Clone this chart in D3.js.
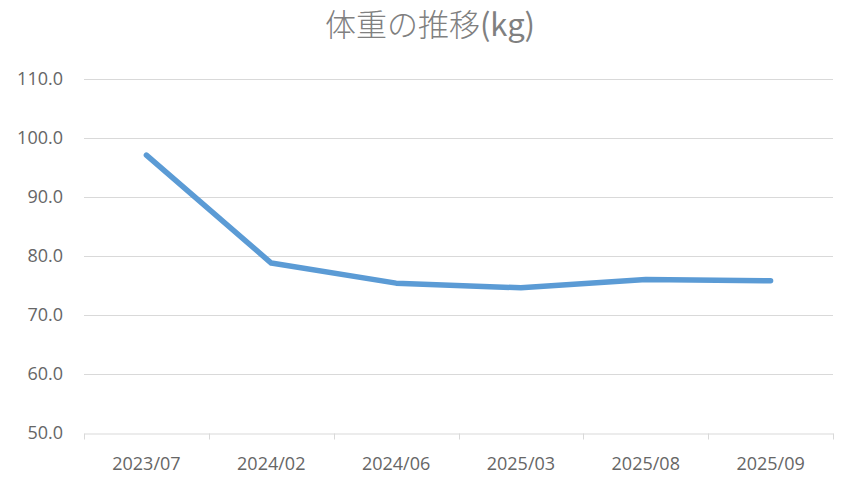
<!DOCTYPE html>
<html>
<head>
<meta charset="utf-8">
<script src="https://cdn.jsdelivr.net/npm/d3@7"></script>
<style>
  body { margin: 0; background: #fff; }
</style>
</head>
<body>
<svg id="chart" width="859" height="488"></svg>
<script>
// chart data
const months = ["2023/07", "2024/02", "2024/06", "2025/03", "2025/08", "2025/09"];
const weights = [97.1, 78.8, 75.4, 74.6, 76.0, 75.8];
const yTicks = [50, 60, 70, 80, 90, 100, 110];

let svg = d3.select("#chart");
let width = parseInt(svg.attr("width"));
let height = parseInt(svg.attr("height"));

let margin = {top: 79, right: 26, bottom: 55, left: 84};

let x = d3.scaleBand()
    .domain(months)
    .range([margin.left, width - margin.right]);

let y = d3.scaleLinear()
    .domain([50, 110])
    .range([height - margin.bottom, margin.top]);

// title
let title = svg.append("text")
    .attr("x", 430)
    .attr("y", 36)
    .attr("text-anchor", "middle")
    .style("font-family", "'Noto Sans CJK JP', sans-serif")
    .style("font-size", "31px")
    .style("font-weight", 300)
    .style("fill", "#808080");
title.append("tspan").text("体重の推移");
title.append("tspan").style("font-weight", 400).text("(kg)");

// gridlines
svg.append("g").selectAll("line")
    .data(yTicks.filter(d => d > 50))
    .join("line")
    .attr("x1", margin.left)
    .attr("x2", width - margin.right)
    .attr("y1", d => Math.round(y(d)) + 0.5)
    .attr("y2", d => Math.round(y(d)) + 0.5)
    .style("stroke", "#d9d9d9")
    .style("stroke-width", 1);

// y labels
svg.append("g").selectAll("text")
    .data(yTicks)
    .join("text")
    .attr("x", 63)
    .attr("y", d => y(d))
    .attr("dy", "0.35em")
    .attr("text-anchor", "end")
    .style("font-family", "'Open Sans', sans-serif")
    .style("font-size", "18px")
    .style("fill", "#666666")
    .text(d => d.toFixed(1));

// x axis
let xAxis = d3.axisBottom(x).tickSize(0).tickFormat(d => d);
let gx = svg.append("g")
    .attr("transform", "translate(0," + (Math.round(y(50)) + 0.5) + ")")
    .call(xAxis);
gx.select(".domain").style("stroke", "#d9d9d9");
gx.selectAll(".tick text")
    .attr("y", 30)
    .attr("dy", "0.35em")
    .style("font-family", "'Open Sans', sans-serif")
    .style("font-size", "18px")
    .style("fill", "#666666");

// category separator ticks
let edges = months.map(d => x(d)).concat([x.range()[1]]);
gx.selectAll(".sep")
    .data(edges)
    .join("line")
    .attr("class", "sep")
    .attr("x1", d => Math.round(d) + 0.5)
    .attr("x2", d => Math.round(d) + 0.5)
    .attr("y1", 0)
    .attr("y2", 6)
    .style("stroke", "#d9d9d9");

// line
let line = d3.line()
    .x((d, i) => x(months[i]) + x.bandwidth() / 2)
    .y(d => y(d));

svg.append("path")
    .datum(weights)
    .attr("d", line)
    .style("fill", "none")
    .style("stroke", "#5b9bd5")
    .style("stroke-width", 5.5)
    .style("stroke-linecap", "round")
    .style("stroke-linejoin", "round");
</script>
</body>
</html>
